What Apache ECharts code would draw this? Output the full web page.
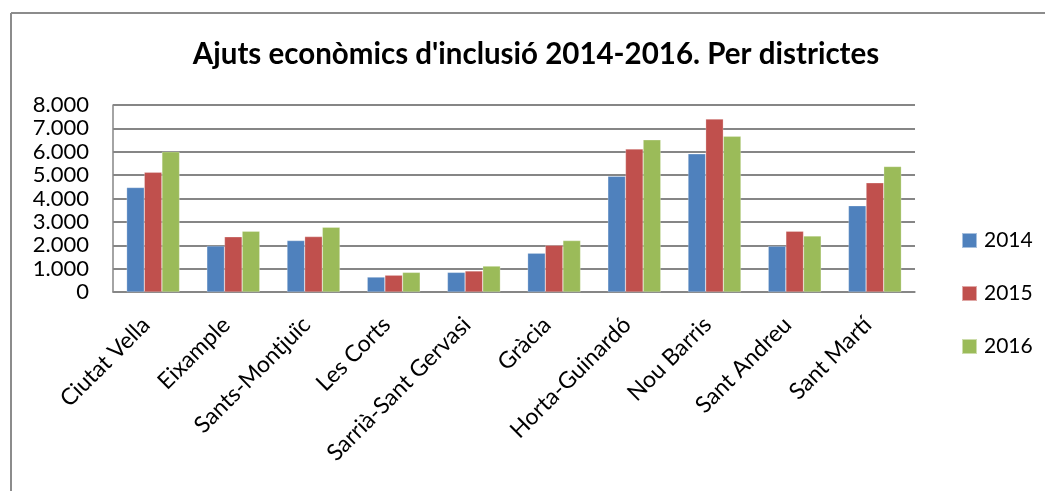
<!DOCTYPE html>
<html>
<head>
<meta charset="utf-8">
<script src="https://cdn.jsdelivr.net/npm/echarts@6/dist/echarts.min.js"></script>
<style>
  html, body { margin: 0; padding: 0; background: #fff; }
  #chart { width: 1045px; height: 491px; }
</style>
</head>
<body>
<div id="chart"></div>
<script>
// districtes
const districtes = ['Ciutat Vella', 'Eixample', 'Sants-Montjuïc', 'Les Corts', 'Sarrià-Sant Gervasi',
  'Gràcia', 'Horta-Guinardó', 'Nou Barris', 'Sant Andreu', 'Sant Martí']
const anys = ['2014', '2015', '2016']
const valors2014 = [4470, 1970, 2200, 640, 840, 1660, 4950, 5910, 1960, 3690]
const valors2015 = [5120, 2360, 2370, 720, 900, 2000, 6120, 7400, 2600, 4670]
const valors2016 = [6000, 2600, 2770, 840, 1110, 2200, 6510, 6660, 2400, 5370]
const colors = ['#4F81BD', '#C0504D', '#9BBB59']

const chart = echarts.init(document.getElementById('chart'))
const font = 'Lato, "Open Sans", sans-serif'

function fmt (v) {
  // separador de milers amb punt
  return v === 0 ? '0' : String(v).replace(/\B(?=(\d{3})+(?!\d))/g, '.')
}

const option = {
  animation: false,
  color: colors,
  textStyle: { fontFamily: font },
  title: {
    text: "Ajuts econòmics d'inclusió 2014-2016. Per districtes",
    left: 531,
    textAlign: 'center',
    top: 34,
    textStyle: { fontSize: 29.5, fontWeight: 'bold', color: '#000', fontFamily: font }
  },
  legend: {
    orient: 'vertical',
    left: 956,
    top: 225,
    itemWidth: 15,
    itemHeight: 15,
    itemGap: 32,
    icon: 'rect',
    data: anys,
    textStyle: { fontSize: 21, color: '#000', padding: [0, 0, 0, 2] }
  },
  grid: { left: 113, right: 130, top: 105, bottom: 199 },
  xAxis: {
    type: 'category',
    data: districtes,
    axisLine: { lineStyle: { color: '#868686', width: 1.5 } },
    axisTick: { show: false },
    axisLabel: {
      rotate: 45,
      interval: 0,
      margin: 22,
      fontSize: 23,
      padding: [0, 10, 0, 0],
      color: '#000'
    }
  },
  yAxis: {
    type: 'value',
    min: 0,
    max: 8000,
    interval: 1000,
    axisLine: { show: true, lineStyle: { color: '#868686', width: 1.5 } },
    axisTick: { show: false },
    splitLine: { lineStyle: { color: '#868686', width: 2 } },
    axisLabel: {
      fontSize: 22,
      color: '#000',
      margin: 24,
      formatter: fmt
    }
  },
  series: [
    { name: anys[0], type: 'bar', data: valors2014, barGap: '0%', barCategoryGap: '34%',
      itemStyle: { borderColor: 'rgba(255,255,255,0.5)', borderWidth: 0.5 } },
    { name: anys[1], type: 'bar', data: valors2015,
      itemStyle: { borderColor: 'rgba(255,255,255,0.5)', borderWidth: 0.5 } },
    { name: anys[2], type: 'bar', data: valors2016,
      itemStyle: { borderColor: 'rgba(255,255,255,0.5)', borderWidth: 0.5 } }
  ],
  graphic: [
    { type: 'line', shape: { x1: 11, y1: 13, x2: 1045, y2: 13 }, style: { stroke: '#8c8c8c', lineWidth: 2 } },
    { type: 'line', shape: { x1: 11, y1: 13, x2: 11, y2: 491 }, style: { stroke: '#8c8c8c', lineWidth: 2 } }
  ]
}

chart.setOption(option)
</script>
</body>
</html>
